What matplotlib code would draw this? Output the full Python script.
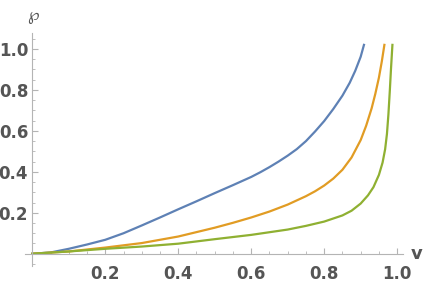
import numpy as np
import matplotlib
matplotlib.use("Agg")
import matplotlib.pyplot as plt
from matplotlib.ticker import MultipleLocator, FixedLocator

# values
v_blue = [0, 0.05, 0.1, 0.15, 0.2, 0.25, 0.3, 0.35, 0.4, 0.45, 0.5, 0.55,
          0.6, 0.625, 0.65, 0.675, 0.7, 0.725, 0.75, 0.775, 0.8, 0.825, 0.85,
          0.87, 0.885, 0.9, 0.909]
p_blue = [0, 0.006, 0.024, 0.045, 0.068, 0.1, 0.138, 0.177, 0.217, 0.256, 0.296, 0.335,
          0.375, 0.398, 0.423, 0.45, 0.479, 0.511, 0.55, 0.597, 0.648, 0.707, 0.772,
          0.835, 0.893, 0.962, 1.02]

v_orange = [0, 0.1, 0.2, 0.3, 0.4, 0.5, 0.55, 0.6, 0.65, 0.7, 0.75, 0.775, 0.8,
            0.825, 0.85, 0.875, 0.9, 0.915, 0.93, 0.94, 0.95, 0.958, 0.965]
p_orange = [0, 0.011, 0.03, 0.052, 0.084, 0.127, 0.151, 0.177, 0.206, 0.24, 0.281, 0.305, 0.333,
            0.367, 0.41, 0.47, 0.555, 0.625, 0.71, 0.78, 0.86, 0.94, 1.02]

v_green = [0, 0.1, 0.2, 0.3, 0.4, 0.5, 0.6, 0.7, 0.75, 0.8, 0.85, 0.875, 0.9,
           0.92, 0.935, 0.95, 0.96, 0.967, 0.972, 0.976, 0.98, 0.983, 0.987]
p_green = [0, 0.011, 0.024, 0.035, 0.049, 0.071, 0.092, 0.118, 0.136, 0.157, 0.187, 0.21, 0.245,
           0.285, 0.325, 0.385, 0.445, 0.51, 0.585, 0.68, 0.8, 0.9, 1.02]

xticks = [0.2, 0.4, 0.6, 0.8, 1.0]
yticks = [0.2, 0.4, 0.6, 0.8, 1.0]

grey = '#b4b4b4'
txt = '#555555'

fig = plt.figure(figsize=(4.24, 2.84), dpi=100)
ax = fig.add_axes([25/424, 18/284, 378/424, 233/284])

ax.plot(v_blue, p_blue, color='#5e81b5', lw=1.6)
ax.plot(v_orange, p_orange, color='#e19c24', lw=1.6)
ax.plot(v_green, p_green, color='#8fb032', lw=1.6)

ax.set_xlim(-0.02, 1.016)
ax.set_ylim(-0.06, 1.078)

for s in ['top', 'right']:
    ax.spines[s].set_visible(False)
ax.spines['left'].set_position(('data', 0))
ax.spines['bottom'].set_position(('data', 0))
for s in ['left', 'bottom']:
    ax.spines[s].set_color(grey)
    ax.spines[s].set_linewidth(0.8)

ax.xaxis.set_major_locator(FixedLocator(xticks))
ax.yaxis.set_major_locator(FixedLocator(yticks))
ax.xaxis.set_minor_locator(MultipleLocator(0.05))
ax.yaxis.set_minor_locator(MultipleLocator(0.05))
ax.set_xticklabels([f'{t:.1f}' for t in xticks])
ax.set_yticklabels([f'{t:.1f}' for t in yticks])

ax.tick_params(which='major', direction='in', length=4, width=0.8, color=grey,
               labelcolor=txt, labelsize=12)
ax.tick_params(which='minor', direction='in', length=2.2, width=0.6, color=grey)
ax.tick_params(axis='x', which='major', pad=8)
ax.tick_params(axis='y', which='major', pad=3)
for lab in ax.get_xticklabels() + ax.get_yticklabels():
    lab.set_fontweight('bold')

fig.text(417/424, 1 - 254/284, 'v', color=txt, fontsize=13, fontweight='bold',
         ha='center', va='center')
fig.text(33/424, 1 - 15/284, '\u2118', color=txt, fontsize=12,
         ha='center', va='center')

fig.savefig('out.png', dpi=100)
